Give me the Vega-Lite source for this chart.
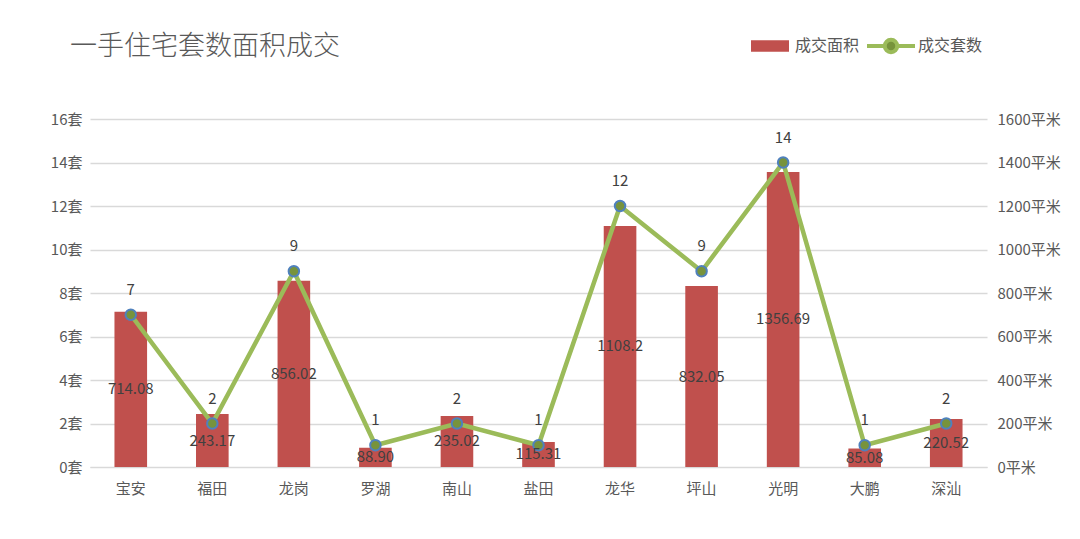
{
  "$schema": "https://vega.github.io/schema/vega-lite/v6.json",
  "autosize": {"type": "none"},
  "width": 897,
  "height": 348,
  "padding": {"left": 90, "top": 119, "right": 93, "bottom": 72},
  "background": "#ffffff",
  "title": {
    "text": "一手住宅套数面积成交",
    "anchor": "start",
    "frame": "group",
    "dx": -20,
    "offset": -41,
    "fontSize": 27,
    "font": "Noto Sans CJK SC",
    "fontWeight": 300,
    "color": "#595959"
  },
  "config": {
    "view": {"stroke": null},
    "font": "Noto Sans CJK SC",
    "axis": {
      "labelFont": "Noto Sans CJK SC",
      "labelColor": "#595959",
      "labelFontSize": 15,
      "ticks": false,
      "domain": false,
      "title": null
    },
    "legend": {
      "labelFont": "Noto Sans CJK SC",
      "labelColor": "#595959",
      "labelFontSize": 16
    }
  },
  "data": {
    "values": [
      {"区域": "宝安", "成交面积": 714.08, "面积标签": "714.08", "成交套数": 7},
      {"区域": "福田", "成交面积": 243.17, "面积标签": "243.17", "成交套数": 2},
      {"区域": "龙岗", "成交面积": 856.02, "面积标签": "856.02", "成交套数": 9},
      {"区域": "罗湖", "成交面积": 88.90, "面积标签": "88.90", "成交套数": 1},
      {"区域": "南山", "成交面积": 235.02, "面积标签": "235.02", "成交套数": 2},
      {"区域": "盐田", "成交面积": 115.31, "面积标签": "115.31", "成交套数": 1},
      {"区域": "龙华", "成交面积": 1108.2, "面积标签": "1108.2", "成交套数": 12},
      {"区域": "坪山", "成交面积": 832.05, "面积标签": "832.05", "成交套数": 9},
      {"区域": "光明", "成交面积": 1356.69, "面积标签": "1356.69", "成交套数": 14},
      {"区域": "大鹏", "成交面积": 85.08, "面积标签": "85.08", "成交套数": 1},
      {"区域": "深汕", "成交面积": 220.52, "面积标签": "220.52", "成交套数": 2}
    ]
  },
  "encoding": {
    "x": {
      "field": "区域",
      "type": "nominal",
      "sort": null,
      "scale": {"paddingInner": 0.6, "paddingOuter": 0.3},
      "axis": {
        "labelAngle": 0,
        "labelPadding": 14,
        "domain": true,
        "domainColor": "#D9D9D9",
        "labelFontSize": 15
      }
    }
  },
  "layer": [
    {
      "mark": {"type": "bar"},
      "encoding": {
        "y": {
          "field": "成交面积",
          "type": "quantitative",
          "scale": {"domain": [0, 1600], "nice": false},
          "axis": {
            "orient": "right",
            "values": [0, 200, 400, 600, 800, 1000, 1200, 1400, 1600],
            "labelExpr": "datum.value + '平米'",
            "grid": false,
            "labelPadding": 10
          }
        },
        "fill": {
          "datum": "成交面积",
          "scale": {"range": ["#C0504D"]},
          "legend": {
            "orient": "none",
            "legendX": 660,
            "legendY": -93,
            "title": null,
            "symbolType": "M-1,-0.3H1V0.3H-1Z",
            "symbolSize": 1444,
            "labelOffset": 5
          }
        }
      }
    },
    {
      "mark": {"type": "line", "strokeWidth": 4.5},
      "encoding": {
        "y": {
          "field": "成交套数",
          "type": "quantitative",
          "scale": {"domain": [0, 16], "nice": false},
          "axis": {
            "orient": "left",
            "values": [0, 2, 4, 6, 8, 10, 12, 14, 16],
            "labelExpr": "datum.value + '套'",
            "grid": true,
            "gridColor": "#D9D9D9",
            "gridWidth": 1.3,
            "labelPadding": 8
          }
        },
        "stroke": {
          "datum": "成交套数",
          "scale": {"range": ["#9BBB59"]},
          "legend": {
            "orient": "none",
            "legendX": 775,
            "legendY": -99,
            "title": null,
            "symbolType": "M-1,0H-0.26M0.26,0H1M-0.26,0A0.26,0.26,0,1,0,0.26,0A0.26,0.26,0,1,0,-0.26,0Z",
            "symbolSize": 2304,
            "symbolStrokeWidth": 4,
            "symbolFillColor": "#77933C",
            "labelOffset": 1
          }
        }
      }
    },
    {
      "mark": {"type": "point", "filled": true, "fill": "#77933C", "stroke": "#4F81BD", "strokeWidth": 2, "size": 110, "opacity": 1},
      "encoding": {
        "y": {
          "field": "成交套数",
          "type": "quantitative",
          "scale": {"domain": [0, 16], "nice": false},
          "axis": null
        }
      }
    },
    {
      "mark": {"type": "text", "fontSize": 15, "color": "#404040", "baseline": "middle"},
      "encoding": {
        "y": {
          "field": "成交面积",
          "type": "quantitative",
          "scale": {"domain": [0, 3200], "nice": false},
          "axis": null
        },
        "text": {"field": "面积标签"}
      }
    },
    {
      "mark": {"type": "text", "fontSize": 15, "color": "#404040", "baseline": "middle", "dy": -25},
      "encoding": {
        "y": {
          "field": "成交套数",
          "type": "quantitative",
          "scale": {"domain": [0, 16], "nice": false},
          "axis": null
        },
        "text": {"field": "成交套数"}
      }
    }
  ],
  "resolve": {"scale": {"y": "independent"}}
}
